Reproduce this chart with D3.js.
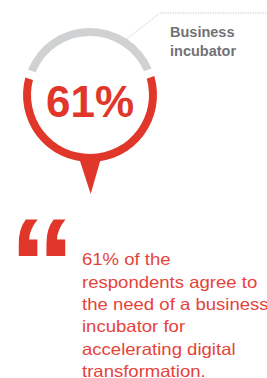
<!DOCTYPE html>
<html>
<head>
<meta charset="utf-8">
<script src="https://cdn.jsdelivr.net/npm/d3@7"></script>
<style>
  html, body { margin: 0; padding: 0; background: #fff; overflow: hidden; }
</style>
</head>
<body>
<div id="chart"></div>
<script>
// Data
const shares = [61, 39];
const shareLabels = ["Business incubator", "Other"];
const valueLabel = "61%";
const categoryLines = ["Business", "incubator"];
const quoteLines = [
  "61% of the",
  "respondents agree to",
  "the need of a business",
  "incubator for",
  "accelerating digital",
  "transformation."
];

const width = 267;
const height = 378;
const red = "#e1372a";
const grey = "#d0d1d3";

const svg = d3.select("#chart")
  .append("svg")
    .attr("width", width)
    .attr("height", height)
    .attr("viewBox", [0, 0, width, height]);

// Ring
const cx = 90, cy = 95;
const outerR = 67, innerR = 59;

const pie = d3.pie()
  .sort(null)
  .startAngle(Math.PI - Math.PI * shares[0] / 100)
  .endAngle(Math.PI - Math.PI * shares[0] / 100 + 2 * Math.PI)
  .padAngle(0.09);

const arc = d3.arc()
  .innerRadius(innerR)
  .outerRadius(outerR);

const ring = svg.append("g")
  .attr("transform", `translate(${cx}, ${cy})`);

ring.selectAll("path")
  .data(pie(shares))
  .join("path")
    .attr("d", arc)
    .attr("fill", (d, i) => i === 0 ? red : grey);

// Pointer under the ring
const pointerHalf = 11;
const pointerTip = outerR + 32;
ring.append("path")
  .attr("d", d3.line()([
    [-pointerHalf, outerR - 4],
    [pointerHalf, outerR - 4],
    [0.7, pointerTip]
  ]))
  .attr("fill", red);

// Big value
ring.append("text")
  .text(valueLabel)
  .attr("x", 0)
  .attr("y", 22)
  .attr("text-anchor", "middle")
  .attr("fill", red)
  .style("font-family", "'Liberation Sans', Arial, sans-serif")
  .style("font-weight", "bold")
  .style("font-size", "44px");

// Leader line from the grey arc to the label
const leadAngle = 0.58; // radians from top, clockwise
const p0 = [cx + outerR * Math.sin(leadAngle), cy - outerR * Math.cos(leadAngle)];
svg.append("path")
  .attr("d", d3.line()([p0, [160, 13], [width, 13]]))
  .attr("fill", "none")
  .attr("stroke", "#b8b9bb")
  .attr("stroke-width", 1)
  .attr("stroke-dasharray", "1,1.5");

svg.append("g")
  .selectAll("text")
  .data(categoryLines)
  .join("text")
    .text(d => d)
    .attr("x", 170)
    .attr("y", (d, i) => 37 + i * 19)
    .attr("fill", "#717275")
    .style("font-family", "'Liberation Sans', Arial, sans-serif")
    .style("font-weight", "bold")
    .style("font-size", "14.5px");

// Quote mark
svg.append("text")
  .text("\u201C")
  .attr("transform", "translate(9, 309) scale(1.02, 1)")
  .attr("fill", red)
  .style("font-family", "'Liberation Sans', Arial, sans-serif")
  .style("font-weight", "bold")
  .style("font-size", "130px");

// Quote text
svg.append("g")
  .attr("transform", "translate(82, 0) scale(1.124, 1)")
  .selectAll("text")
  .data(quoteLines)
  .join("text")
    .text(d => d)
    .attr("x", 0)
    .attr("y", (d, i) => 265.5 + i * 22.3)
    .attr("fill", "#e5433a")
    .style("font-family", "'Liberation Sans', Arial, sans-serif")
    .style("font-size", "16.5px");
</script>
</body>
</html>
